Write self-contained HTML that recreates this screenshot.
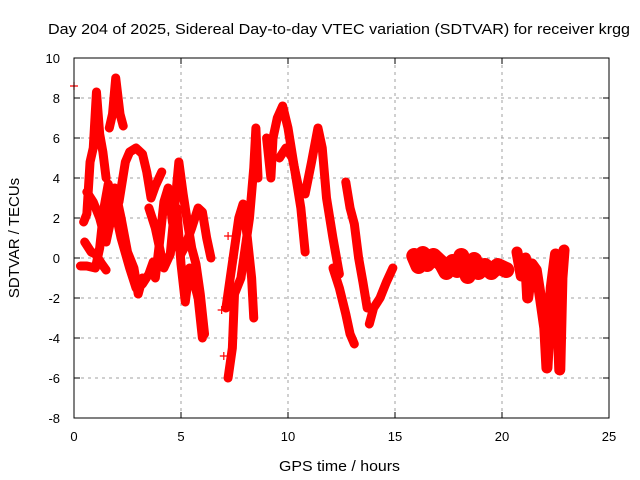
<!DOCTYPE html>
<html><head><meta charset="utf-8"><style>
body{margin:0;background:#fff;}
svg{display:block;font-family:"Liberation Sans",sans-serif;}
</style></head><body>
<svg id="chart" width="640" height="480" viewBox="0 0 640 480">
<rect width="640" height="480" fill="#fff"/>
<text x="48" y="34" font-size="15" textLength="582" lengthAdjust="spacingAndGlyphs" fill="#000">Day 204 of 2025, Sidereal Day-to-day VTEC variation (SDTVAR) for receiver krgg</text>
<g id="grid"></g>
<g id="marks"></g>
<rect x="74" y="58" width="535" height="360" fill="none" stroke="#000" stroke-width="1"/>
<g id="axes"></g>
<text x="279" y="471" font-size="15" textLength="121" lengthAdjust="spacingAndGlyphs">GPS time / hours</text>
<text transform="translate(19,238) rotate(-90)" font-size="15" text-anchor="middle">SDTVAR / TECUs</text>
</svg>
<script>
const xTicks=[0,5,10,15,20,25];
const yTicks=[-8,-6,-4,-2,0,2,4,6,8,10];
const trace1=[[0.45,1.8],[0.6,2.2],[0.75,4.8],[0.9,5.5],[1.05,8.3],[1.2,6.2],[1.35,5.3],[1.5,4.0]];
const trace2=[[1.65,6.5],[1.8,7.2],[1.95,9.0],[2.15,7.2],[2.3,6.6]];
const trace3=[[2.1,2.8],[2.4,4.8],[2.6,5.3],[2.9,5.5],[3.2,5.2],[3.4,4.3],[3.6,3.0],[3.8,3.6],[4.1,4.3]];
const trace4=[[0.3,-0.4],[0.6,-0.4],[1.0,-0.5],[1.2,0.5],[1.4,2.5],[1.6,3.7],[1.9,2.5],[2.2,1.0],[2.6,-0.5],[2.9,-1.5],[3.2,-1.3],[3.5,-0.8],[3.7,-0.2]];
const trace5=[[0.6,3.3],[0.9,2.8],[1.2,2.0],[1.5,0.8],[1.7,1.8],[1.9,3.5],[2.2,2.0],[2.5,0.3],[2.8,-0.5],[3.0,-1.8],[3.2,-1.0]];
const trace6=[[0.5,0.8],[0.8,0.3],[1.0,0.2],[1.3,-0.3],[1.5,-0.6]];
const trace7=[[3.5,2.5],[3.8,1.5],[4.0,0.5],[4.2,-0.5],[4.5,0.2],[4.7,2.5],[4.9,4.8],[5.1,3.2],[5.3,1.8],[5.5,0.5],[5.7,-0.3],[5.9,-1.8],[6.1,-3.8]];
const trace8=[[3.8,-1.0],[4.0,0.8],[4.2,2.8],[4.4,3.5],[4.6,1.8],[4.8,0.8],[5.0,0.2],[5.2,0.6],[5.5,1.5],[5.8,2.5],[6.0,2.3],[6.2,1.0],[6.4,0.0]];
const trace9=[[4.8,2.5],[5.0,-0.3],[5.2,-2.2],[5.4,-0.5],[5.6,-1.2],[5.8,-2.0],[6.0,-4.0]];
const trace10=[[7.2,-6.0],[7.4,-4.5],[7.5,-1.8],[7.8,-1.0],[8.0,0.5],[8.2,2.0],[8.4,4.5],[8.5,6.5],[8.6,4.0]];
const trace11=[[7.1,-2.5],[7.3,-1.0],[7.5,0.5],[7.7,2.0],[7.9,2.7],[8.1,1.0],[8.3,-1.0],[8.4,-3.0]];
const trace12=[[9.0,6.0],[9.2,4.0],[9.3,6.0],[9.5,7.0],[9.75,7.6],[10.0,6.5],[10.3,4.5],[10.6,2.5],[10.8,0.3]];
const trace13=[[9.6,5.0],[9.9,5.5],[10.2,5.0],[10.5,3.5],[10.8,3.2],[11.1,4.8],[11.4,6.5],[11.6,5.5],[11.8,3.0],[12.1,1.0],[12.4,-0.8]];
const trace14=[[12.1,-0.5],[12.4,-1.5],[12.7,-2.8],[12.9,-3.8],[13.1,-4.3]];
const trace15=[[12.7,3.8],[12.9,2.5],[13.1,1.7],[13.3,0],[13.5,-1.2],[13.7,-2.5]];
const trace16=[[13.8,-3.3],[14.0,-2.5],[14.3,-2.0],[14.6,-1.2],[14.9,-0.5]];
const trace17=[[15.9,0.1],[16.1,-0.4],[16.3,0.2],[16.5,-0.3],[16.8,0.1],[17.2,-0.3],[17.4,-0.7],[17.7,-0.2],[17.9,-0.6],[18.1,0.1],[18.4,-0.9],[18.7,-0.1],[18.9,-0.7],[19.2,-0.4],[19.5,-0.7],[19.8,-0.4],[20.2,-0.6]];
const trace18=[[20.7,0.3],[20.9,-0.9],[21.1,0.0],[21.2,-2.0],[21.4,-0.3],[21.6,-0.6],[21.8,-2.0],[22.0,-3.5],[22.1,-5.5],[22.3,-1.5],[22.5,0.2],[22.6,-2.5],[22.7,-5.6],[22.8,-1.0],[22.9,0.4]];
const seriesList=[trace1,trace2,trace3,trace4,trace5,trace6,trace7,trace8,trace9,trace10,trace11,trace12,trace13,trace14,trace15,trace16,trace17,trace18];
const outliers=[[0.0,8.6],[7.0,-4.9],[6.9,-2.6],[7.2,1.1]];

const NS="http://www.w3.org/2000/svg";
const X0=74,X1=609,Y0=418,Y1=58;
function sx(t){return X0+(t-0)/(25-0)*(X1-X0);}
function sy(v){return Y0-(v-(-8))/(10-(-8))*(Y0-Y1);}
const grid=document.getElementById('grid'),axes=document.getElementById('axes'),marks=document.getElementById('marks');
function mk(tag,attrs,parent){const e=document.createElementNS(NS,tag);for(const k in attrs)e.setAttribute(k,attrs[k]);parent.appendChild(e);return e;}
xTicks.forEach(t=>{
  if(t>0&&t<25){const g=mk('line',{x1:sx(t),x2:sx(t),y1:Y0,y2:Y1,stroke:'#a0a0a0','stroke-dasharray':'3,4'},grid);
  
  }
  const lb=mk('text',{x:sx(t),y:Y0+23,'font-size':13,'text-anchor':'middle'},axes);lb.textContent=t;
  
  
  mk('line',{x1:sx(t),x2:sx(t),y1:Y0,y2:Y0-6,stroke:'#000'},axes);
  mk('line',{x1:sx(t),x2:sx(t),y1:Y1,y2:Y1+6,stroke:'#000'},axes);
});
yTicks.forEach(v=>{
  if(v>-8&&v<10){const g=mk('line',{x1:X0,x2:X1,y1:sy(v),y2:sy(v),stroke:'#a0a0a0','stroke-dasharray':'3,4'},grid);
  
  }
  const lb=mk('text',{x:X0-14,y:sy(v)+5,'font-size':13,'text-anchor':'end'},axes);lb.textContent=v;
  
  
  mk('line',{x1:X0,x2:X0+6,y1:sy(v),y2:sy(v),stroke:'#000'},axes);
  mk('line',{x1:X1,x2:X1-6,y1:sy(v),y2:sy(v),stroke:'#000'},axes);
});
function plus(t,v){const x=sx(t),y=sy(v);
  const p=mk('path',{d:`M${x-4},${y}h8M${x},${y-4}v8`,stroke:'#f00','stroke-width':1.2,fill:'none'},marks);
  
  }
seriesList.forEach((s,i)=>{
  const w=(s===trace17)?16:(s===trace18?11:9);
  const pl=mk('polyline',{points:s.map(p=>sx(p[0])+','+sy(p[1])).join(' '),stroke:'#f00','stroke-width':w,fill:'none','stroke-linejoin':'round','stroke-linecap':'round'},marks);
  
  
  s.forEach(p=>plus(p[0],p[1]));
});
outliers.forEach(p=>plus(p[0],p[1]));
</script>
</body></html>
